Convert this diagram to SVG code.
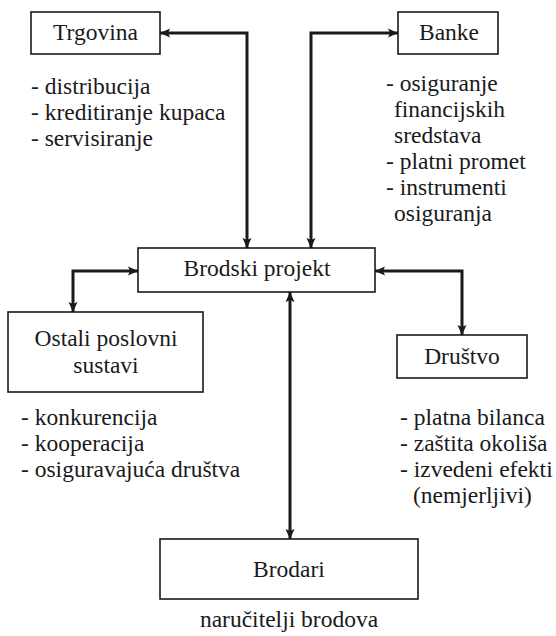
<svg xmlns="http://www.w3.org/2000/svg" width="556" height="636" viewBox="0 0 556 636">
<style>
.box{fill:#fff;stroke:#1a1a1a;stroke-width:1.6}
.t{font-family:'Liberation Serif','Times New Roman',serif;font-size:23.5px;fill:#1a1a1a}
.c{text-anchor:middle}
.con{fill:none;stroke:#1a1a1a;stroke-width:3;marker-start:url(#ah);marker-end:url(#ah)}
</style>
<defs>
<marker id="ah" viewBox="0 0 10 10" refX="10" refY="5" markerWidth="10" markerHeight="10" markerUnits="userSpaceOnUse" orient="auto-start-reverse">
<path d="M0,0.5 L10,5 L0,9.5 L2,5 Z" fill="#1a1a1a"/>
</marker>
</defs>
<rect width="556" height="636" fill="#fff"/>
<g id="connectors">
<path class="con" d="M160,33 H247 V248"/>
<path class="con" d="M398,33 H311 V248"/>
<path class="con" d="M138,271 H73 V312"/>
<path class="con" d="M375,271 H462 V335"/>
<path class="con" d="M290,292 V539"/>
</g>
<g id="trgovina">
<rect class="box" x="31" y="12" width="129" height="42"/>
<text class="t c" x="95.5" y="40">Trgovina</text>
<text class="t" x="31" y="94">- distribucija</text>
<text class="t" x="31" y="120">- kreditiranje kupaca</text>
<text class="t" x="31" y="146">- servisiranje</text>
</g>
<g id="banke">
<rect class="box" x="398" y="12" width="100" height="42"/>
<text class="t c" x="449" y="40">Banke</text>
<text class="t" x="386" y="91">- osiguranje</text>
<text class="t" x="394" y="117">financijskih</text>
<text class="t" x="394" y="143">sredstava</text>
<text class="t" x="386" y="169">- platni promet</text>
<text class="t" x="386" y="195">- instrumenti</text>
<text class="t" x="394" y="221">osiguranja</text>
</g>
<g id="brodski-projekt">
<rect class="box" x="138" y="248" width="237" height="44"/>
<text class="t c" x="257" y="276">Brodski projekt</text>
</g>
<g id="ostali">
<rect class="box" x="8" y="312" width="195" height="80"/>
<text class="t c" x="106" y="346">Ostali poslovni</text>
<text class="t c" x="106" y="373">sustavi</text>
<text class="t" x="21" y="425">- konkurencija</text>
<text class="t" x="21" y="451">- kooperacija</text>
<text class="t" x="21" y="477">- osiguravajuća društva</text>
</g>
<g id="drustvo">
<rect class="box" x="397" y="335" width="130" height="43"/>
<text class="t c" x="462" y="364">Društvo</text>
<text class="t" x="400" y="425">- platna bilanca</text>
<text class="t" x="400" y="451">- zaštita okoliša</text>
<text class="t" x="400" y="477">- izvedeni efekti</text>
<text class="t" x="413" y="503">(nemjerljivi)</text>
</g>
<g id="brodari">
<rect class="box" x="160" y="539" width="258" height="60"/>
<text class="t c" x="289" y="577">Brodari</text>
<text class="t c" x="289" y="627">naručitelji brodova</text>
</g>
</svg>
